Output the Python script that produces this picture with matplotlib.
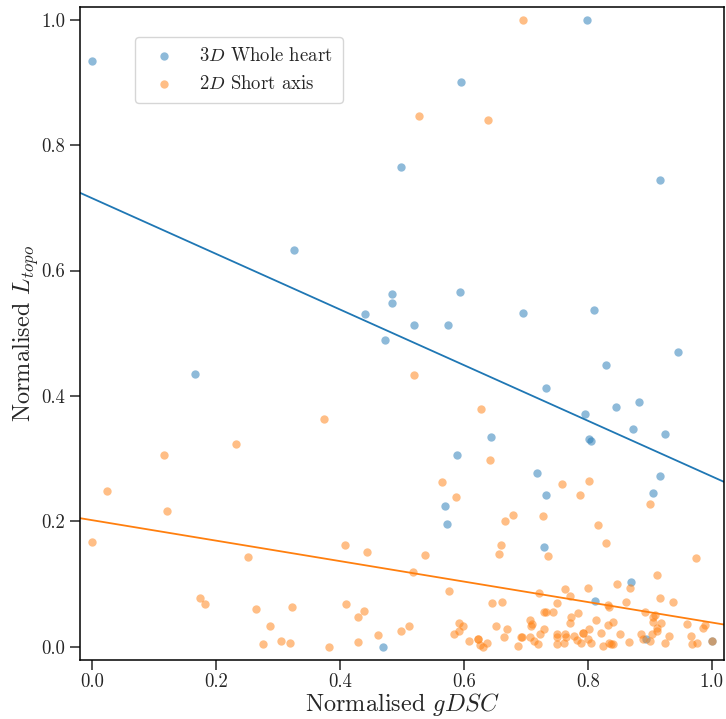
import numpy as np
import matplotlib
matplotlib.use("Agg")
import matplotlib.pyplot as plt

plt.rcParams['font.family'] = 'serif'
plt.rcParams['font.serif'] = ['cmr10']
plt.rcParams['mathtext.fontset'] = 'cm'
plt.rcParams['axes.formatter.use_mathtext'] = True

# ---- data ----
heart3d_x = [0.0, 0.499, 0.325, 0.484, 0.484, 0.441, 0.473,
             0.799, 0.595, 0.916, 0.594, 0.696, 0.810, 0.519, 0.574,
             0.166, 0.470,
             0.945, 0.830, 0.732, 0.883, 0.845, 0.795, 0.873, 0.924, 0.644, 0.802,
             0.806, 0.589, 0.718, 0.916, 0.906, 0.732, 0.569, 0.572, 0.729, 0.870,
             0.811, 0.894, 1.0]
heart3d_y = [0.934, 0.765, 0.633, 0.563, 0.548, 0.530, 0.490,
             1.0, 0.901, 0.744, 0.566, 0.532, 0.537, 0.513, 0.513,
             0.435, 0.0,
             0.470, 0.450, 0.413, 0.391, 0.382, 0.371, 0.347, 0.339, 0.335, 0.331,
             0.328, 0.306, 0.278, 0.273, 0.245, 0.242, 0.225, 0.196, 0.159, 0.103,
             0.074, 0.012, 0.010]

sax2d_x = [0.696, 0.528, 0.639,
           0.374, 0.232, 0.115, 0.023, 0.120, 0.0, 0.408, 0.444, 0.252, 0.173, 0.182,
           0.265, 0.322, 0.410, 0.438, 0.429, 0.287, 0.462, 0.499, 0.512, 0.276, 0.304,
           0.319, 0.382, 0.429,
           0.519, 0.628, 0.642, 0.565, 0.802, 0.758, 0.587, 0.788, 0.901, 0.679, 0.666,
           0.728, 0.817, 0.660, 0.656, 0.830, 0.735, 0.975, 0.537, 0.518, 0.912, 0.576,
           0.848, 0.869, 0.801, 0.764, 0.772, 0.722, 0.916, 0.938, 0.861, 0.833, 0.835,
           0.645, 0.661, 0.750, 0.729, 0.733, 0.744, 0.784, 0.893, 0.908, 0.905, 0.773,
           0.707, 0.814, 0.906, 0.918, 0.710, 0.771, 0.841, 0.833, 0.960, 0.592, 0.599,
           0.652, 0.670, 0.708, 0.729, 0.802, 0.911, 0.911, 0.990, 0.986, 0.584, 0.592,
           0.665, 0.692, 0.694, 0.707, 0.723, 0.750, 0.750, 0.763, 0.765, 0.778, 0.793,
           0.793, 0.821, 0.852, 0.886, 0.904, 0.931, 0.966, 0.608, 0.623, 0.623, 0.638,
           0.626, 0.631, 0.688, 0.713, 0.720, 0.750, 0.762, 0.782, 0.789, 0.801, 0.806,
           0.825, 0.834, 0.838, 0.841, 0.866, 0.889, 0.900, 0.924, 0.969, 0.976, 1.0]
sax2d_y = [1.0, 0.846, 0.840,
           0.364, 0.324, 0.306, 0.249, 0.217, 0.168, 0.163, 0.151, 0.143, 0.078, 0.068,
           0.060, 0.063, 0.068, 0.058, 0.048, 0.034, 0.019, 0.025, 0.033, 0.005, 0.009,
           0.006, 0.0, 0.008,
           0.433, 0.379, 0.298, 0.263, 0.264, 0.259, 0.239, 0.242, 0.228, 0.211, 0.201,
           0.209, 0.195, 0.162, 0.148, 0.166, 0.145, 0.142, 0.147, 0.120, 0.114, 0.089,
           0.101, 0.094, 0.094, 0.093, 0.081, 0.086, 0.078, 0.071, 0.072, 0.067, 0.064,
           0.070, 0.072, 0.070, 0.056, 0.056, 0.055, 0.054, 0.056, 0.051, 0.047, 0.048,
           0.043, 0.043, 0.039, 0.038, 0.037, 0.038, 0.039, 0.035, 0.037, 0.038, 0.034,
           0.034, 0.028, 0.033, 0.029, 0.029, 0.031, 0.025, 0.035, 0.030, 0.020, 0.025,
           0.016, 0.016, 0.016, 0.016, 0.021, 0.020, 0.016, 0.020, 0.016, 0.018, 0.022,
           0.022, 0.023, 0.021, 0.021, 0.021, 0.018, 0.018, 0.010, 0.013, 0.013, 0.006,
           0.003, 0.0, 0.002, 0.010, 0.004, 0.004, 0.007, 0.011, 0.006, 0.012, 0.006,
           0.002, 0.007, 0.005, 0.005, 0.008, 0.012, 0.009, 0.006, 0.005, 0.007, 0.010]

# fitted trend lines (intercept, slope)
heart3d_fit = (0.715, -0.443)
sax2d_fit = (0.202, -0.163)

labels = [r'$3D$ Whole heart', r'$2D$ Short axis']
xticks = [0.0, 0.2, 0.4, 0.6, 0.8, 1.0]
yticks = [0.0, 0.2, 0.4, 0.6, 0.8, 1.0]

# ---- plot ----
blue = '#1f77b4'
orange = '#ff7f0e'
dark = '#262626'

fig = plt.figure(figsize=(7.26, 7.19), dpi=100)
ax = fig.add_axes([80 / 726, 1 - 659.5 / 719, 644 / 726, 652.5 / 719])

ax.scatter(heart3d_x, heart3d_y, s=36, color=blue, alpha=0.5, linewidths=0, label=labels[0])
ax.scatter(sax2d_x, sax2d_y, s=36, color=orange, alpha=0.5, linewidths=0, label=labels[1])

ax.axline((0, heart3d_fit[0]), slope=heart3d_fit[1], color=blue, lw=1.3)
ax.axline((0, sax2d_fit[0]), slope=sax2d_fit[1], color=orange, lw=1.3)

ax.set_xlim(-0.02, 1.02)
ax.set_ylim(-0.02, 1.02)
ax.set_xticks(xticks)
ax.set_yticks(yticks)
ax.set_xticklabels([f'{t:.1f}' for t in xticks])
ax.set_yticklabels([f'{t:.1f}' for t in yticks])
ax.tick_params(direction='out', length=7, width=1.1, labelsize=13.5, colors=dark)
ax.tick_params(axis='x', pad=2.5)
for sp in ax.spines.values():
    sp.set_linewidth(1.1)
    sp.set_color('black')

ax.set_xlabel(r'Normalised $gDSC$', fontsize=17.5, color=dark, labelpad=0)
ax.set_ylabel(r'Normalised $L_{topo}$', fontsize=17.5, color=dark, labelpad=0.5)

leg = ax.legend(loc='upper left', bbox_to_anchor=(0.0854, 0.954), borderaxespad=0,
                fontsize=13.5, frameon=True, fancybox=True, borderpad=0.55,
                handletextpad=0.85)
leg.get_frame().set_edgecolor('#cccccc')
for t in leg.get_texts():
    t.set_color(dark)

fig.savefig('out.png', dpi=100)
